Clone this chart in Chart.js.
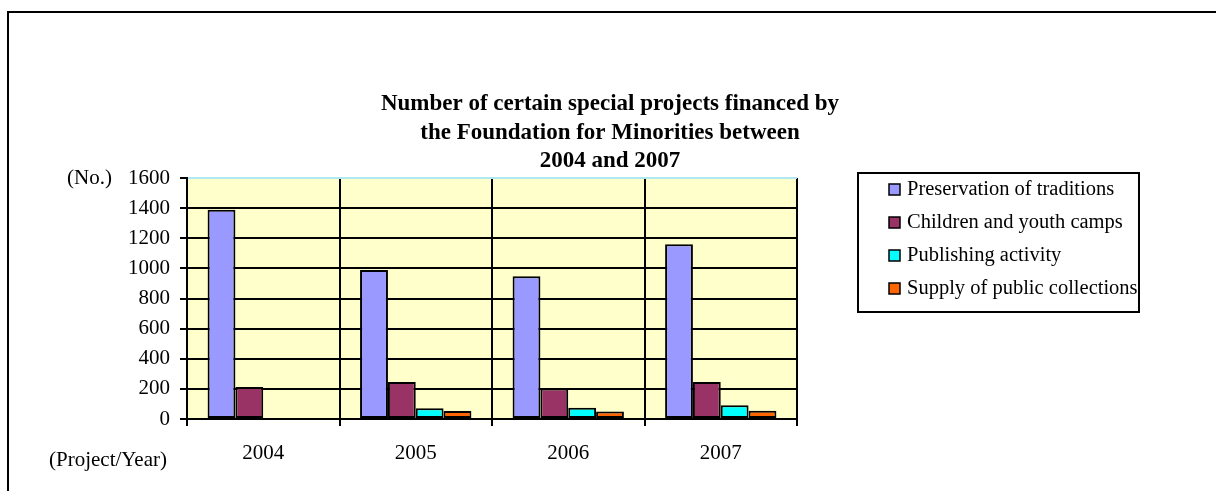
<!DOCTYPE html>
<html>
<head>
<meta charset="utf-8">
<script src="https://cdn.jsdelivr.net/npm/chart.js@4/dist/chart.umd.min.js"></script>
<style>
    html, body { margin: 0; padding: 0; background: #fff; }
    #wrap { position: relative; width: 1216px; height: 491px; overflow: hidden; }
    #frame { position: absolute; left: 7px; top: 11px; width: 1400px; height: 700px; border: 2px solid #000; }
    #chart { position: absolute; left: 0; top: 0; }
</style>
</head>
<body>
<div id="wrap">
    <div id="frame"></div>
    <canvas id="chart" width="1216" height="491"></canvas>
</div>
<script>
"use strict";

const years = ["2004", "2005", "2006", "2007"];
const preservation = [1390, 990, 947, 1160];
const camps = [212, 246, 202, 246];
const publishing = [null, 72, 75, 91];
const supply = [null, 53, 49, 55];
const yTicks = [0, 200, 400, 600, 800, 1000, 1200, 1400, 1600];
const titleLines = [
    "Number of certain special projects financed by",
    "the Foundation for Minorities between",
    "2004 and 2007"
];

const serif = "'Times New Roman', 'Liberation Serif', serif";
const cyanEdge = "rgb(175, 232, 240)";

// yellow plot background, drawn under the grid
const plotBg = {
    id: "plotBg",
    beforeDraw(chart) {
        const a = chart.chartArea;
        const ctx = chart.ctx;
        ctx.save();
        ctx.fillStyle = "#FFFFCC";
        ctx.fillRect(a.left, a.top, a.right - a.left, a.bottom - a.top);
        ctx.restore();
    }
};

// title over the whole sheet, unit labels and a boxed legend
const extras = {
    id: "extras",
    afterDraw(chart) {
        const a = chart.chartArea;
        const ctx = chart.ctx;
        const y = chart.scales.y;
        ctx.save();
        ctx.fillStyle = "#000";

        ctx.font = "bold 23px " + serif;
        ctx.textAlign = "center";
        ctx.textBaseline = "alphabetic";
        titleLines.forEach((t, i) => ctx.fillText(t, 610, a.top - 68 + i * 28.5));

        ctx.font = "21px " + serif;
        ctx.textBaseline = "middle";
        ctx.textAlign = "right";
        ctx.fillText("(No.)", 112, y.getPixelForValue(1600));
        ctx.textAlign = "left";
        ctx.fillText("(Project/Year)", 49, a.bottom + 41);

        // legend box
        const lx = a.right + 61, ly = 173, lw = 281, lh = 139;
        ctx.strokeStyle = "#000";
        ctx.lineWidth = 2;
        ctx.strokeRect(lx, ly, lw, lh);
        ctx.font = "20.5px " + serif;
        chart.data.datasets.forEach((ds, i) => {
            const cy = ly + 17 + i * 33;
            ctx.fillStyle = ds.backgroundColor;
            ctx.fillRect(lx + 31, cy - 6, 11, 11);
            ctx.lineWidth = 1.5;
            ctx.strokeRect(lx + 31, cy - 6, 11, 11);
            ctx.fillStyle = "#000";
            ctx.fillText(ds.label, lx + 49, cy);
        });
        ctx.restore();
    }
};

function makeSet(label, values, color) {
    return {
        label: label,
        data: values,
        backgroundColor: color,
        borderColor: "#000",
        borderWidth: 2,
        borderSkipped: false,
        categoryPercentage: 0.73,
        barPercentage: 1.0
    };
}

new Chart(document.getElementById("chart").getContext("2d"), {
    type: "bar",
    data: {
        labels: years,
        datasets: [
            makeSet("Preservation of traditions", preservation, "#9999FF"),
            makeSet("Children and youth camps", camps, "#993366"),
            makeSet("Publishing activity", publishing, "#00FFFF"),
            makeSet("Supply of public collections", supply, "#FF6600")
        ]
    },
    options: {
        responsive: false,
        animation: false,
        layout: { padding: { top: 178, right: 419, bottom: 28, left: 0 } },
        plugins: {
            legend: { display: false },
            tooltip: { enabled: false }
        },
        scales: {
            x: {
                afterFit(scale) { scale.height = 44; },
                grid: {
                    offset: true,
                    color: (c) => c.index === years.length ? cyanEdge : "#000",
                    lineWidth: 2,
                    tickColor: "#000",
                    tickLength: 7
                },
                border: { color: "#000", width: 2 },
                ticks: {
                    color: "#000",
                    font: { family: serif, size: 21 },
                    padding: 15
                }
            },
            y: {
                min: 0,
                max: 1600,
                afterBuildTicks(scale) {
                    scale.ticks = yTicks.map(v => ({ value: v }));
                },
                afterFit(scale) { scale.width = 187; },
                grid: {
                    color: (c) => c.tick && c.tick.value === 1600 ? cyanEdge : "#000",
                    lineWidth: 2,
                    tickColor: "#000",
                    tickLength: 7
                },
                border: { color: "#000", width: 2 },
                ticks: {
                    color: "#000",
                    font: { family: serif, size: 21 },
                    padding: 10,
                    callback: (v) => String(v)
                }
            }
        }
    },
    plugins: [plotBg, extras]
});
</script>
</body>
</html>
